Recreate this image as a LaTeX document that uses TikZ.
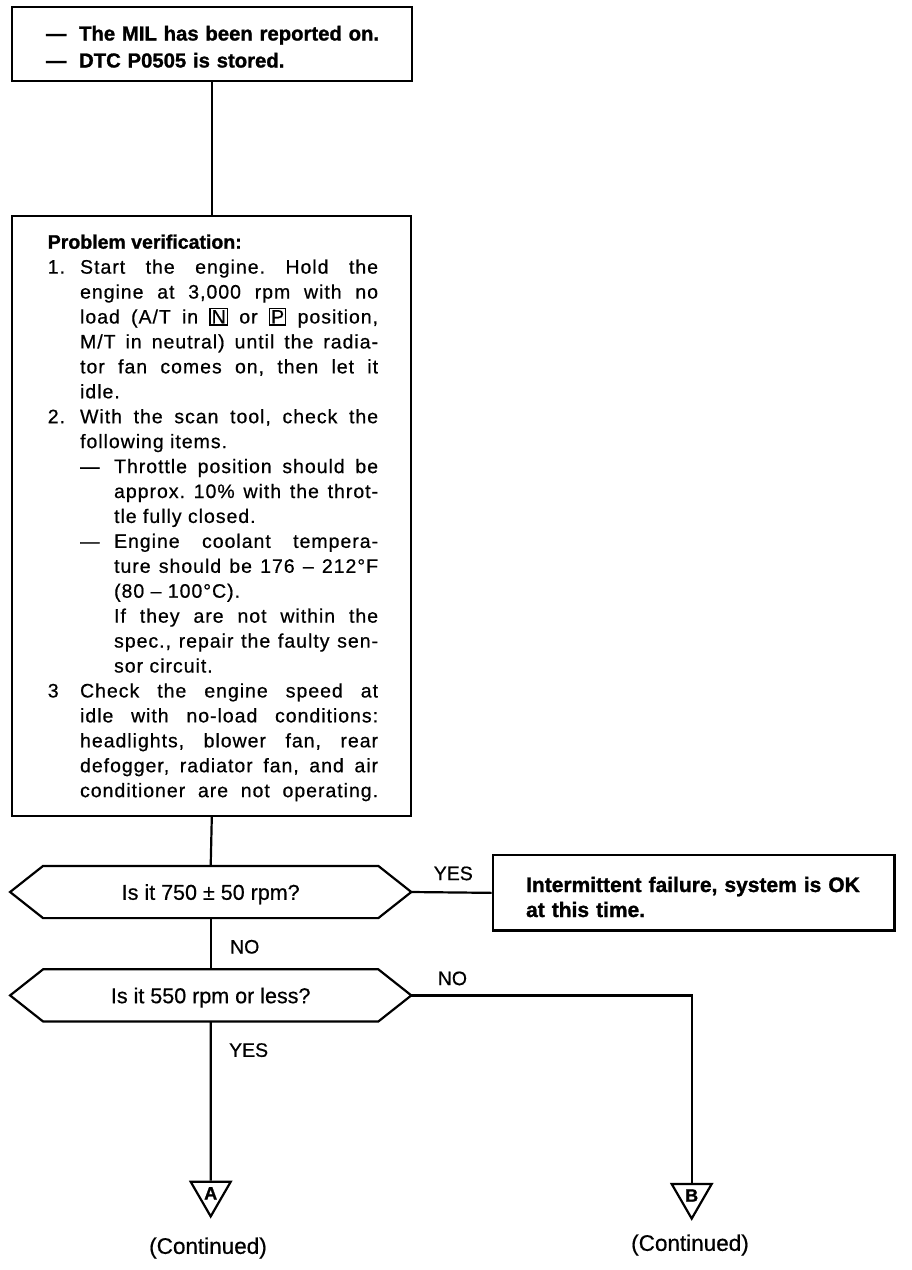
\documentclass[tikz,border=0pt]{standalone}
\usepackage{fontspec}
\setmainfont{Liberation Sans}[BoldFeatures={FakeBold=1.2}]
\newfontfamily\bodyfont[LetterSpace=5.0,FakeBold=0.6]{Liberation Sans}
\newfontfamily\medfont[FakeBold=0.6]{Liberation Sans}
\usetikzlibrary{shapes.geometric}
\newcommand\bxl[1]{{\setlength\fboxsep{1pt}\setlength\fboxrule{1.3pt}\fbox{\medfont #1}}}
\newcommand\hexshape[1]{\draw (#1.west) -- ([xshift=33pt]#1.north west) -- ([xshift=-33pt]#1.north east) -- (#1.east) -- ([xshift=-33pt]#1.south east) -- ([xshift=33pt]#1.south west) -- cycle;}
\begin{document}
\begin{tikzpicture}[x=1pt,y=-1pt,line width=2.2pt,
  box/.style={draw,rectangle,inner sep=0pt,anchor=north west},
  dec/.style={minimum width=399pt,minimum height=50pt,inner sep=0pt,text depth=0pt,
    font=\medfont\fontsize{21.5pt}{25pt}\selectfont},
  lbl/.style={inner sep=0pt,anchor=west,text depth=0pt,font=\medfont\fontsize{19.5pt}{22pt}\selectfont},
  tri/.style={draw,regular polygon,regular polygon sides=3,shape border rotate=180,
    minimum size=46.2pt,inner sep=0pt,font=\fontsize{18pt}{20pt}\selectfont\bfseries},
  cont/.style={inner sep=0pt,font=\medfont\fontsize{22.5pt}{25pt}\selectfont}]
\fill[white] (0,0) rectangle (912,1270);
\useasboundingbox (0,0) rectangle (912,1270);

% top box
\node[box,minimum width=400pt,minimum height=73.5pt] (b1) at (10.7,6) {};
\node[anchor=base west,inner sep=0pt,text width=360pt,align=left,
  font=\fontsize{20.3pt}{27pt}\selectfont\bfseries] (t1) at (45,40.5)
  {\makebox[33pt][l]{—}The MIL has been reported on.\\\makebox[33pt][l]{—}DTC P0505 is stored.};

% problem verification box
\node[box,minimum width=399pt,minimum height=600pt] (b2) at (11.2,215) {};
\node[anchor=base west,inner sep=0pt,text width=330.3pt,align=justify,
  font=\bodyfont\fontsize{19.5pt}{24.93pt}\selectfont] (t2) at (46.7,248.7) {%
\tolerance=10000\hbadness=10000\frenchspacing
\noindent{\rmfamily\bfseries Problem verification:}\par
\hangindent=32.3pt\hangafter=1\noindent\makebox[32.3pt][l]{1.}Start the engine. Hold the\linebreak
engine at 3,000 rpm with no\linebreak
load (A/T in \bxl{N} or \bxl{P} position,\linebreak
M/T in neutral) until the radia-\linebreak
tor fan comes on, then let it\linebreak
idle.\par
\hangindent=32.3pt\hangafter=1\noindent\makebox[32.3pt][l]{2.}With the scan tool, check the\linebreak
following items.\par
\hangindent=66.3pt\hangafter=1\noindent\hspace*{32.3pt}\makebox[34pt][l]{—}Throttle position should be\linebreak
approx. 10\% with the throt-\linebreak
tle fully closed.\par
\hangindent=66.3pt\hangafter=1\noindent\hspace*{32.3pt}\makebox[34pt][l]{—}Engine coolant tempera-\linebreak
ture should be 176 – 212°F\linebreak
(80 – 100°C).\par
\hangindent=66.3pt\hangafter=0\noindent If they are not within the\linebreak
spec., repair the faulty sen-\linebreak
sor circuit.\par
{\parfillskip=0pt
\hangindent=32.3pt\hangafter=1\noindent\makebox[32.3pt][l]{3}Check the engine speed at\linebreak
idle with no-load conditions:\linebreak
headlights, blower fan, rear\linebreak
defogger, radiator fan, and air\linebreak
conditioner are not operating.\par}};

% decisions
\node[dec] (d1) at (210.7,892) {Is it 750 ± 50 rpm?};
\hexshape{d1}
\node[dec] (d2) at (210.7,995.4) {Is it 550 rpm or less?};
\hexshape{d2}

% result box
\node[box,minimum width=401.6pt,minimum height=75.3pt] (b3) at (491.7,854.1) {};
\node[anchor=base west,inner sep=0pt,text width=370pt,align=left,
  font=\fontsize{21pt}{25pt}\selectfont\bfseries] (t3) at (525,892)
  {Intermittent failure, system is OK\\at this time.};

% labels
\node[lbl] (yes1) at (432.7,873.3) {YES};
\node[lbl] (no1) at (229,946.7) {NO};
\node[lbl] (no2) at (436.7,978.3) {NO};
\node[lbl] (yes2) at (228,1050) {YES};

% off-page connectors
\node[tri] (ta) at (210.7,1193.3) {A};
\node[tri] (tb) at (691.7,1195.5) {B};
\node[cont] (ca) at (208,1248) {(Continued)};
\node[cont] (cb) at (690,1245) {(Continued)};

% connectors
\draw (b1.south) -- (b2.north);
\draw (b2.south) -- (d1.north);
\draw (d1.east) -- (b3.west);
\draw (d1.south) -- (d2.north);
\draw (d2.south) -- (ta.north);
\draw (d2.east) -| (tb.north);
\end{tikzpicture}
\end{document}
